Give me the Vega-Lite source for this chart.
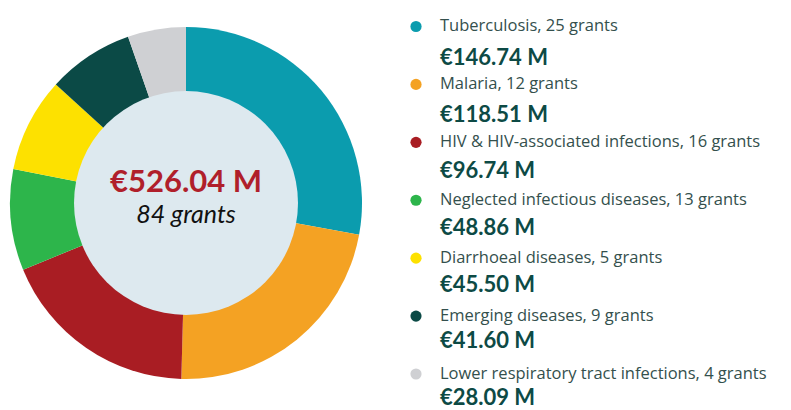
{
  "$schema": "https://vega.github.io/schema/vega-lite/v6.json",
  "padding": 0,
  "spacing": 0,
  "background": "white",
  "config": {"view": {"stroke": null}},
  "datasets": {
    "grants": [
      {"rank": 1, "disease": "Tuberculosis", "grants": 25, "amount": 146.74, "label": "Tuberculosis, 25 grants", "value": "€146.74 M"},
      {"rank": 2, "disease": "Malaria", "grants": 12, "amount": 118.51, "label": "Malaria, 12 grants", "value": "€118.51 M"},
      {"rank": 3, "disease": "HIV & HIV-associated infections", "grants": 16, "amount": 96.74, "label": "HIV & HIV-associated infections, 16 grants", "value": "€96.74 M"},
      {"rank": 4, "disease": "Neglected infectious diseases", "grants": 13, "amount": 48.86, "label": "Neglected infectious diseases, 13 grants", "value": "€48.86 M"},
      {"rank": 5, "disease": "Diarrhoeal diseases", "grants": 5, "amount": 45.50, "label": "Diarrhoeal diseases, 5 grants", "value": "€45.50 M"},
      {"rank": 6, "disease": "Emerging diseases", "grants": 9, "amount": 41.60, "label": "Emerging diseases, 9 grants", "value": "€41.60 M"},
      {"rank": 7, "disease": "Lower respiratory tract infections", "grants": 4, "amount": 28.09, "label": "Lower respiratory tract infections, 4 grants", "value": "€28.09 M"}
    ],
    "total": [{"total": "€526.04 M", "count": "84 grants"}]
  },
  "hconcat": [
    {
      "width": 372,
      "height": 406,
      "layer": [
        {
          "data": {"name": "grants"},
          "mark": {"type": "arc", "outerRadius": 176, "innerRadius": 0, "stroke": null},
          "encoding": {
            "theta": {"field": "amount", "type": "quantitative", "stack": true},
            "order": {"field": "rank", "type": "quantitative"},
            "color": {
              "field": "disease", "type": "nominal", "legend": null,
              "scale": {
                "domain": ["Tuberculosis", "Malaria", "HIV & HIV-associated infections", "Neglected infectious diseases", "Diarrhoeal diseases", "Emerging diseases", "Lower respiratory tract infections"],
                "range": ["#0b9cae", "#f4a223", "#a91d23", "#2db54b", "#fde100", "#0b4a46", "#cfd0d3"]
              }
            }
          }
        },
        {
          "data": {"name": "total"},
          "mark": {"type": "arc", "outerRadius": 112, "innerRadius": 0, "theta": 0, "theta2": 6.2832, "fill": "#dde9ef", "stroke": null},
          "encoding": {}
        },
        {
          "data": {"name": "total"},
          "mark": {"type": "text", "font": "Lato", "fontWeight": "bold", "fontSize": 31, "color": "#b01f2b", "baseline": "middle", "align": "center", "dy": -20},
          "encoding": {"text": {"field": "total"}}
        },
        {
          "data": {"name": "total"},
          "mark": {"type": "text", "font": "Lato", "fontStyle": "italic", "fontSize": 25, "color": "#111111", "baseline": "middle", "align": "center", "dy": 12},
          "encoding": {"text": {"field": "count"}}
        }
      ]
    },
    {
      "width": 419,
      "height": 410,
      "data": {"name": "grants"},
      "encoding": {
        "x": {"datum": 0, "type": "quantitative", "axis": null, "scale": {"domain": [-1.1, 9.375], "nice": false, "zero": false}}
      },
      "layer": [
        {
          "mark": {"type": "point", "filled": true, "size": 125, "opacity": 1},
          "encoding": {
            "y": {"field": "rank", "type": "quantitative", "axis": null, "scale": {"domain": [0.5425, 7.6216], "reverse": true, "nice": false, "zero": false}},
            "color": {"field": "disease", "type": "nominal", "legend": null}
          }
        },
        {
          "mark": {"type": "text", "font": "Open Sans", "fontSize": 16.5, "color": "#34504d", "align": "left", "baseline": "middle", "dx": 24},
          "encoding": {
            "y": {"field": "rank", "type": "quantitative", "axis": null, "scale": {"domain": [0.5425, 7.6216], "reverse": true, "nice": false, "zero": false}},
            "text": {"field": "label"}
          }
        },
        {
          "mark": {"type": "text", "font": "Lato", "fontWeight": "bold", "fontSize": 22, "color": "#0d4a45", "align": "left", "baseline": "middle", "dx": 24},
          "encoding": {
            "y": {"field": "rank", "type": "quantitative", "axis": null, "scale": {"domain": [-0.0235, 7.2118], "reverse": true, "nice": false, "zero": false}},
            "text": {"field": "value"}
          }
        }
      ],
      "resolve": {"scale": {"y": "independent"}}
    }
  ]
}
